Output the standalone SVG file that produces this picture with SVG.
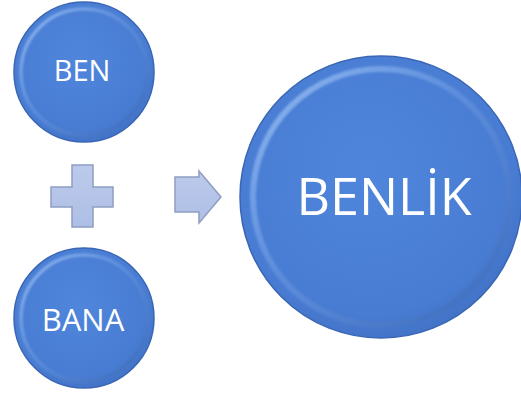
<svg xmlns="http://www.w3.org/2000/svg" width="521" height="401" viewBox="0 0 521 401">
  <defs>
    <radialGradient id="fillGrad" cx="0.45" cy="0.4" r="0.65">
      <stop offset="0" stop-color="#4f86dc"/>
      <stop offset="0.8" stop-color="#487cd2"/>
      <stop offset="1" stop-color="#3f6fc2"/>
    </radialGradient>
    <linearGradient id="rimGrad" x1="0" y1="0" x2="1" y2="1">
      <stop offset="0" stop-color="#9cc0f4" stop-opacity="0.95"/>
      <stop offset="0.45" stop-color="#7aa5e8" stop-opacity="0.4"/>
      <stop offset="1" stop-color="#2f5aa4" stop-opacity="0.5"/>
    </linearGradient>
    <linearGradient id="opGrad" x1="0" y1="0" x2="0" y2="1">
      <stop offset="0" stop-color="#bccaeb"/>
      <stop offset="1" stop-color="#aebfe6"/>
    </linearGradient>
    <filter id="soft" x="-10%" y="-10%" width="120%" height="120%">
      <feGaussianBlur stdDeviation="1.2"/>
    </filter>
  </defs>
  <style>
    .disc { fill: url(#fillGrad); stroke: #3a66b4; stroke-width: 1.5; }
    .rim { fill: none; stroke: url(#rimGrad); filter: url(#soft); }
    .label { fill: #ffffff; font-family: "Open Sans", "Liberation Sans", Arial, sans-serif; text-anchor: middle; }
    .op { fill: url(#opGrad); stroke: #8f9dc2; stroke-width: 1.5; }
  </style>
  <rect width="521" height="401" fill="#ffffff"/>

  <g id="node-ben">
    <circle class="disc" cx="84" cy="72" r="70"/>
    <circle class="rim" cx="84" cy="72" r="63" stroke-width="3.5"/>
    <text class="label" x="82" y="81" font-size="29">BEN</text>
  </g>

  <g id="node-bana">
    <circle class="disc" cx="84" cy="318" r="70"/>
    <circle class="rim" cx="84" cy="318" r="63" stroke-width="3.5"/>
    <text class="label" x="83" y="331" font-size="31">BANA</text>
  </g>

  <g id="node-benlik">
    <circle class="disc" cx="381" cy="197" r="141"/>
    <circle class="rim" cx="381" cy="197" r="128" stroke-width="6"/>
    <text class="label" x="384" y="215" font-size="52">BENLİK</text>
  </g>

  <g id="connectors">
    <path class="op" d="M72,165 H93 V187 H113 V207 H93 V227 H72 V207 H51 V187 H72 Z"/>
    <path class="op" d="M175,177 H199 V171 L221,197 L199,223 V212 H175 Z"/>
  </g>
</svg>
